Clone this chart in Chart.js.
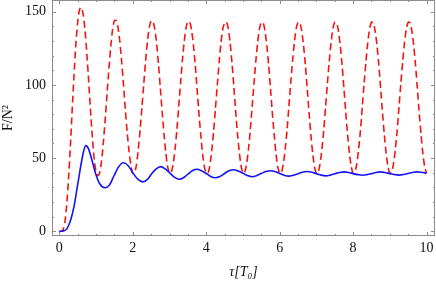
<!DOCTYPE html>
<html>
<head>
<meta charset="utf-8">
<script src="https://cdn.jsdelivr.net/npm/chart.js@4.4.0/dist/chart.umd.min.js"></script>
<style>
  html, body { margin: 0; padding: 0; background: #fff; }
  #wrap { width: 436px; height: 281px; }
</style>
</head>
<body>
<div id="wrap"><canvas id="chart"></canvas></div>
<script>
// time grid for the dashed curve (step 0.05)
var tRed = [
  0.00, 0.05, 0.10, 0.15, 0.20, 0.25, 0.30, 0.35, 0.40, 0.45, 0.50, 0.55, 0.60, 0.65, 0.70, 0.75, 0.80, 0.85, 0.90, 0.95,
  1.00, 1.05, 1.10, 1.15, 1.20, 1.25, 1.30, 1.35, 1.40, 1.45, 1.50, 1.55, 1.60, 1.65, 1.70, 1.75, 1.80, 1.85, 1.90, 1.95,
  2.00, 2.05, 2.10, 2.15, 2.20, 2.25, 2.30, 2.35, 2.40, 2.45, 2.50, 2.55, 2.60, 2.65, 2.70, 2.75, 2.80, 2.85, 2.90, 2.95,
  3.00, 3.05, 3.10, 3.15, 3.20, 3.25, 3.30, 3.35, 3.40, 3.45, 3.50, 3.55, 3.60, 3.65, 3.70, 3.75, 3.80, 3.85, 3.90, 3.95,
  4.00, 4.05, 4.10, 4.15, 4.20, 4.25, 4.30, 4.35, 4.40, 4.45, 4.50, 4.55, 4.60, 4.65, 4.70, 4.75, 4.80, 4.85, 4.90, 4.95,
  5.00, 5.05, 5.10, 5.15, 5.20, 5.25, 5.30, 5.35, 5.40, 5.45, 5.50, 5.55, 5.60, 5.65, 5.70, 5.75, 5.80, 5.85, 5.90, 5.95,
  6.00, 6.05, 6.10, 6.15, 6.20, 6.25, 6.30, 6.35, 6.40, 6.45, 6.50, 6.55, 6.60, 6.65, 6.70, 6.75, 6.80, 6.85, 6.90, 6.95,
  7.00, 7.05, 7.10, 7.15, 7.20, 7.25, 7.30, 7.35, 7.40, 7.45, 7.50, 7.55, 7.60, 7.65, 7.70, 7.75, 7.80, 7.85, 7.90, 7.95,
  8.00, 8.05, 8.10, 8.15, 8.20, 8.25, 8.30, 8.35, 8.40, 8.45, 8.50, 8.55, 8.60, 8.65, 8.70, 8.75, 8.80, 8.85, 8.90, 8.95,
  9.00, 9.05, 9.10, 9.15, 9.20, 9.25, 9.30, 9.35, 9.40, 9.45, 9.50, 9.55, 9.60, 9.65, 9.70, 9.75, 9.80, 9.85, 9.90, 9.95,
  10.00
];
var fRed = [
  0, 0, 1, 6, 18, 36, 58, 83, 107, 128, 143, 151.5, 153, 148, 137, 121, 102, 82, 64, 49,
  40.5, 38, 40, 48, 61, 77, 94, 111, 126, 138, 144, 144, 139, 129, 115, 99, 82, 67, 54, 45,
  39.5, 40, 45.5, 56, 69.5, 85, 101, 116.5, 130, 139.5, 143.8, 143.3, 138, 128, 114, 98, 81.5, 66.5, 53.5, 44,
  39.5, 40.3, 46, 56, 69, 85, 101, 116.5, 129.5, 139, 143.3, 143, 137.5, 127.5, 114, 97.5, 81, 66, 53, 44,
  39.5, 40, 45, 55, 68, 83.5, 99.5, 115, 128.5, 138, 142.5, 143, 138.5, 129, 115.5, 99.5, 82.5, 67, 54, 44.5,
  39.5, 40.5, 46, 56, 69, 85, 101, 116, 129, 138.5, 142.8, 142.5, 137, 127, 113.5, 97.5, 81, 66, 53, 44,
  39.5, 40.5, 46, 56, 69, 85, 101, 116, 129, 138.5, 142.8, 142.5, 137, 127, 113.5, 97.5, 81, 66, 53, 44,
  39.5, 40.5, 46, 56, 69, 85, 101, 116, 129, 138.5, 142.8, 142.5, 137, 127, 113.5, 97.5, 81, 66, 53, 44,
  39.5, 40.5, 46, 56, 69, 85, 101, 116, 129, 138.5, 142.8, 142.5, 137, 127, 113.5, 97.5, 81, 66, 53, 44,
  39.5, 40.5, 46, 56, 69, 85, 101, 116, 129, 138.5, 142.8, 142.5, 137, 127, 113.5, 97.5, 81, 66, 53, 44,
  39.7
];

// solid curve, sampled at its turning points and in between
var tBlue = [
  0, 0.1, 0.2, 0.3, 0.4, 0.5, 0.6, 0.66, 0.72, 0.8, 0.9, 1.0, 1.1, 1.24, 1.36, 1.49, 1.6, 1.74, 1.87,
  2.0, 2.13, 2.27, 2.4, 2.52, 2.63, 2.76, 2.89, 3.01, 3.14, 3.27, 3.39, 3.51, 3.63, 3.75, 3.87,
  4.0, 4.12, 4.25, 4.37, 4.5, 4.62, 4.74, 4.87, 5.0, 5.12, 5.25, 5.37, 5.5, 5.62, 5.75, 5.87,
  6.0, 6.12, 6.25, 6.37, 6.5, 6.62, 6.75, 6.87, 7.0, 7.13, 7.26, 7.38, 7.5, 7.63, 7.76, 7.88,
  8.0, 8.13, 8.26, 8.38, 8.5, 8.62, 8.74, 8.86, 9.0, 9.12, 9.25, 9.37, 9.5, 9.62, 9.73, 9.86, 10
];
var fBlue = [
  0, 0.2, 1.5, 7, 17, 32, 47, 54.5, 58.5, 56, 47.5, 38.5, 32.5, 29.8, 31.5, 38, 43.5, 46.8, 45,
  40, 35.8, 33.8, 35.5, 39.5, 42.5, 44.2, 42.5, 39.8, 36.8, 35.6, 36.8, 39.2, 41.5, 42.4, 41.4,
  39.5, 37.5, 36.6, 37.4, 39.5, 41.4, 42.1, 41.2, 39.6, 38.1, 37.3, 38, 39.5, 40.8, 41.4, 40.8,
  39.5, 38.3, 37.7, 38.3, 39.3, 40.4, 40.9, 40.4, 39.4, 38.4, 37.9, 38.4, 39.3, 40.2, 40.6, 40.2,
  39.4, 38.7, 38.3, 38.7, 39.4, 40.2, 40.6, 40.2, 39.4, 38.8, 38.4, 38.8, 39.5, 40.2, 40.6, 40.3, 39.7
];

var xMajor = [0, 2, 4, 6, 8, 10];
var yMajor = [0, 50, 100, 150];

function pairs(xs, ys) {
  return xs.map(function (x, i) { return { x: x, y: ys[i] }; });
}

var frameColor = '#8c8c8c';

// Mathematica-like frame with inward ticks on all four sides
var framePlugin = {
  id: 'frame',
  afterDatasetsDraw: function (chart) {
    var ctx = chart.ctx, a = chart.chartArea;
    var xs = chart.scales.x, ys = chart.scales.y;
    ctx.save();
    ctx.strokeStyle = frameColor;
    ctx.lineWidth = 1;
    ctx.strokeRect(a.left + 0.5, a.top + 0.5, a.right - a.left - 1, a.bottom - a.top - 1);
    ctx.beginPath();
    for (var v = 0; v <= 10.001; v += 0.5) {
      var px = Math.round(xs.getPixelForValue(v)) + 0.5;
      var len = (Math.abs(v / 2 - Math.round(v / 2)) < 1e-6) ? 4 : 2;
      ctx.moveTo(px, a.bottom); ctx.lineTo(px, a.bottom - len);
      ctx.moveTo(px, a.top); ctx.lineTo(px, a.top + len);
    }
    for (var w = 0; w <= 150; w += 10) {
      var py = Math.round(ys.getPixelForValue(w)) + 0.5;
      var l2 = (w % 50 === 0) ? 4 : 2;
      ctx.moveTo(a.left, py); ctx.lineTo(a.left + l2, py);
      ctx.moveTo(a.right, py); ctx.lineTo(a.right - l2, py);
    }
    ctx.stroke();
    ctx.restore();
  }
};

var serif = 'Liberation Serif';

var chart = new Chart(
  document.getElementById('chart'),
  {
    type: 'line',
    data: {
      datasets: [{
        label: 'blue',
        data: pairs(tBlue, fBlue),
        borderColor: 'rgb(20, 20, 245)',
        borderWidth: 1.6,
        pointRadius: 0,
        fill: false,
        cubicInterpolationMode: 'monotone'
      }, {
        label: 'red',
        data: pairs(tRed, fRed),
        borderColor: 'rgb(245, 20, 20)',
        borderWidth: 1.6,
        borderDash: [7, 4],
        pointRadius: 0,
        fill: false,
        tension: 0.2
      }]
    },
    options: {
      animation: false,
      responsive: true,
      maintainAspectRatio: false,
      layout: { padding: { top: 0, right: 1, left: 0, bottom: 0 } },
      plugins: {
        legend: { display: false },
        tooltip: { enabled: false }
      },
      scales: {
        x: {
          type: 'linear',
          min: -0.2,
          max: 10.23,
          grid: { display: false, drawTicks: false },
          border: { display: false },
          afterBuildTicks: function (s) {
            s.ticks = xMajor.map(function (v) { return { value: v }; });
          },
          afterFit: function (s) {
            s.height = 45;
            s.paddingLeft = 0;
            s.paddingRight = 0;
          },
          ticks: {
            autoSkip: false,
            maxRotation: 0,
            padding: 4,
            color: '#111',
            font: { family: serif, size: 14 }
          },
          title: {
            display: true,
            text: 'τ[T₀]',
            color: '#111',
            padding: { top: 2, bottom: 0 },
            font: { family: serif, size: 14, style: 'italic' }
          }
        },
        y: {
          type: 'linear',
          min: -3.2,
          max: 158,
          grid: { display: false, drawTicks: false },
          border: { display: false },
          afterBuildTicks: function (s) {
            s.ticks = yMajor.map(function (v) { return { value: v }; });
          },
          afterFit: function (s) {
            s.width = 52;
            s.paddingTop = 0;
            s.paddingBottom = 0;
          },
          ticks: {
            autoSkip: false,
            padding: 6,
            color: '#111',
            font: { family: serif, size: 14 }
          },
          title: {
            display: true,
            text: 'F/N²',
            color: '#111',
            padding: { top: 0, bottom: 2 },
            font: { family: serif, size: 14 }
          }
        }
      }
    },
    plugins: [framePlugin]
  }
);
</script>
</body>
</html>
